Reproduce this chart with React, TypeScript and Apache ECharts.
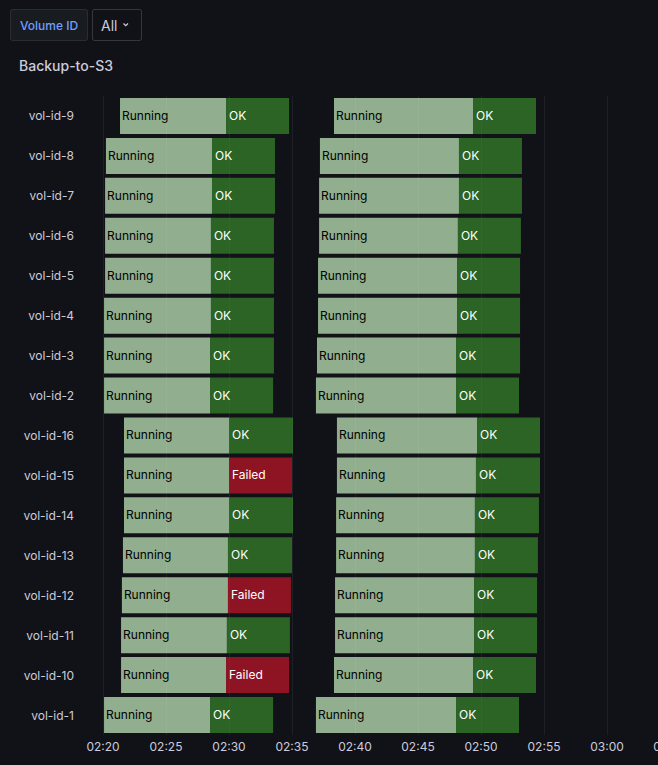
import { useEffect, useRef } from 'react';
import * as echarts from 'echarts';

// rows, top to bottom
const volumes = [
  'vol-id-9', 'vol-id-8', 'vol-id-7', 'vol-id-6', 'vol-id-5', 'vol-id-4', 'vol-id-3', 'vol-id-2',
  'vol-id-16', 'vol-id-15', 'vol-id-14', 'vol-id-13', 'vol-id-12', 'vol-id-11', 'vol-id-10', 'vol-id-1',
];

// first backup run
const run1Start = [
  '02:21:21', '02:20:14', '02:20:10', '02:20:10', '02:20:10', '02:20:05', '02:20:05', '02:20:05',
  '02:21:40', '02:21:40', '02:21:40', '02:21:35', '02:21:30', '02:21:26', '02:21:26', '02:20:05',
];
const run1Switch = [
  '02:29:46', '02:28:39', '02:28:39', '02:28:34', '02:28:34', '02:28:34', '02:28:30', '02:28:30',
  '02:30:00', '02:30:00', '02:30:00', '02:29:55', '02:29:55', '02:29:50', '02:29:46', '02:28:30',
];
const run1End = [
  '02:34:46', '02:33:39', '02:33:39', '02:33:34', '02:33:34', '02:33:34', '02:33:34', '02:33:30',
  '02:35:05', '02:35:00', '02:35:05', '02:35:00', '02:34:55', '02:34:50', '02:34:46', '02:33:30',
];
const run1Result = [
  'OK', 'OK', 'OK', 'OK', 'OK', 'OK', 'OK', 'OK',
  'OK', 'Failed', 'OK', 'OK', 'Failed', 'OK', 'Failed', 'OK',
];

// second backup run
const run2Start = [
  '02:38:20', '02:37:13', '02:37:09', '02:37:09', '02:37:04', '02:37:04', '02:36:59', '02:36:54',
  '02:38:34', '02:38:34', '02:38:30', '02:38:30', '02:38:25', '02:38:25', '02:38:20', '02:36:54',
];
const run2Switch = [
  '02:49:22', '02:48:15', '02:48:15', '02:48:10', '02:48:06', '02:48:06', '02:48:01', '02:48:01',
  '02:49:41', '02:49:36', '02:49:31', '02:49:31', '02:49:27', '02:49:27', '02:49:22', '02:48:01',
];
const run2End = [
  '02:54:22', '02:53:15', '02:53:15', '02:53:10', '02:53:06', '02:53:06', '02:53:06', '02:53:01',
  '02:54:41', '02:54:41', '02:54:36', '02:54:31', '02:54:27', '02:54:27', '02:54:22', '02:53:01',
];
const run2Result = [
  'OK', 'OK', 'OK', 'OK', 'OK', 'OK', 'OK', 'OK',
  'OK', 'OK', 'OK', 'OK', 'OK', 'OK', 'OK', 'OK',
];

const rangeStart = '02:20:00';
const rangeEnd = '03:05:00';

const stateColors: Record<string, string> = {
  Running: '#c8f2c2',
  OK: '#37872d',
  Failed: '#c4162a',
};
const stateText: Record<string, string> = {
  Running: '#000000',
  OK: '#ffffff',
  Failed: '#ffffff',
};

const FONT = 'Inter, "Noto Sans", sans-serif';

function toMs(t: string) {
  const [h, m, s] = t.split(':').map(Number);
  return Date.UTC(2024, 0, 1, h, m, s);
}

function buildSegments() {
  const segs: any[] = [];
  volumes.forEach((_, i) => {
    segs.push({ value: [i, toMs(run1Start[i]), toMs(run1Switch[i]), 'Running'] });
    segs.push({ value: [i, toMs(run1Switch[i]), toMs(run1End[i]), run1Result[i]] });
    segs.push({ value: [i, toMs(run2Start[i]), toMs(run2Switch[i]), 'Running'] });
    segs.push({ value: [i, toMs(run2Switch[i]), toMs(run2End[i]), run2Result[i]] });
  });
  return segs;
}

export default function App() {
  const chartRef = useRef<HTMLDivElement>(null);

  useEffect(() => {
    if (!chartRef.current) return;
    const chart = echarts.init(chartRef.current, undefined, { renderer: 'svg' });
    const segments = buildSegments();

    chart.setOption({
      animation: false,
      backgroundColor: '#111217',
      title: {
        text: 'Backup-to-S3',
        left: 19,
        top: 58,
        padding: 0,
        textStyle: { color: '#ccccdc', fontSize: 14, fontWeight: 500, fontFamily: FONT },
      },
      graphic: [
        {
          type: 'rect',
          shape: { x: 10.5, y: 9.5, width: 77, height: 31, r: 2 },
          style: { fill: '#181b1f', stroke: 'rgba(204,204,220,0.12)', lineWidth: 1 },
        },
        {
          type: 'text',
          x: 49,
          y: 25,
          style: {
            text: 'Volume ID',
            fill: '#6e9fff',
            font: `500 12px ${FONT}`,
            align: 'center',
            verticalAlign: 'middle',
          },
        },
        {
          type: 'rect',
          shape: { x: 92.5, y: 9.5, width: 49, height: 31, r: 2 },
          style: { fill: '#111217', stroke: 'rgba(204,204,220,0.2)', lineWidth: 1 },
        },
        {
          type: 'text',
          x: 101,
          y: 25,
          style: {
            text: 'All',
            fill: '#ccccdc',
            font: `14px ${FONT}`,
            verticalAlign: 'middle',
          },
        },
        {
          type: 'polyline',
          shape: { points: [[123.5, 23.5], [125.75, 25.75], [128, 23.5]] },
          style: { stroke: '#ccccdc', lineWidth: 1.2, fill: 'none' },
        },
      ],
      grid: { left: 103, right: 50, top: 96, bottom: 30 },
      xAxis: {
        type: 'value',
        min: toMs(rangeStart),
        max: toMs(rangeEnd),
        interval: 5 * 60 * 1000,
        axisLine: { show: false },
        axisTick: { show: false },
        splitLine: { show: true, lineStyle: { color: 'rgba(204,204,220,0.08)', width: 1 } },
        axisLabel: {
          color: '#ccccdc',
          fontSize: 12,
          fontFamily: FONT,
          margin: 5,
          formatter: (v: number) => {
            const d = new Date(v);
            const hh = String(d.getUTCHours()).padStart(2, '0');
            const mm = String(d.getUTCMinutes()).padStart(2, '0');
            return `${hh}:${mm}`;
          },
        },
      },
      yAxis: {
        type: 'category',
        data: volumes,
        inverse: true,
        axisLine: { show: false },
        axisTick: { show: false },
        splitLine: { show: false },
        axisLabel: { color: '#ccccdc', fontSize: 12, fontFamily: FONT, margin: 29 },
      },
      series: [
        {
          type: 'custom',
          encode: { x: [1, 2], y: 0 },
          data: segments,
          renderItem: (params: any, api: any) => {
            const row = api.value(0);
            const start = api.coord([api.value(1), row]);
            const end = api.coord([api.value(2), row]);
            const state = segments[params.dataIndex].value[3] as string;
            const h = api.size([0, 1])[1] * 0.9;
            const w = end[0] - start[0];
            return {
              type: 'group',
              children: [
                {
                  type: 'rect',
                  shape: { x: start[0], y: start[1] - h / 2, width: w, height: h },
                  style: { fill: stateColors[state], opacity: 0.7 },
                },
                {
                  type: 'text',
                  x: start[0] + (state === 'Running' ? 2 : 3),
                  y: start[1] - 0.5,
                  style: {
                    text: state,
                    fill: stateText[state],
                    font: `12px ${FONT}`,
                    verticalAlign: 'middle',
                  },
                },
              ],
            };
          },
        },
      ],
    });

    return () => {
      chart.dispose();
    };
  }, []);

  return (
    <div
      style={{
        position: 'fixed',
        left: 0,
        top: 0,
        width: 658,
        height: 765,
        overflow: 'hidden',
        background: '#111217',
      }}
    >
      <div ref={chartRef} style={{ width: 720, height: 765 }} />
    </div>
  );
}
